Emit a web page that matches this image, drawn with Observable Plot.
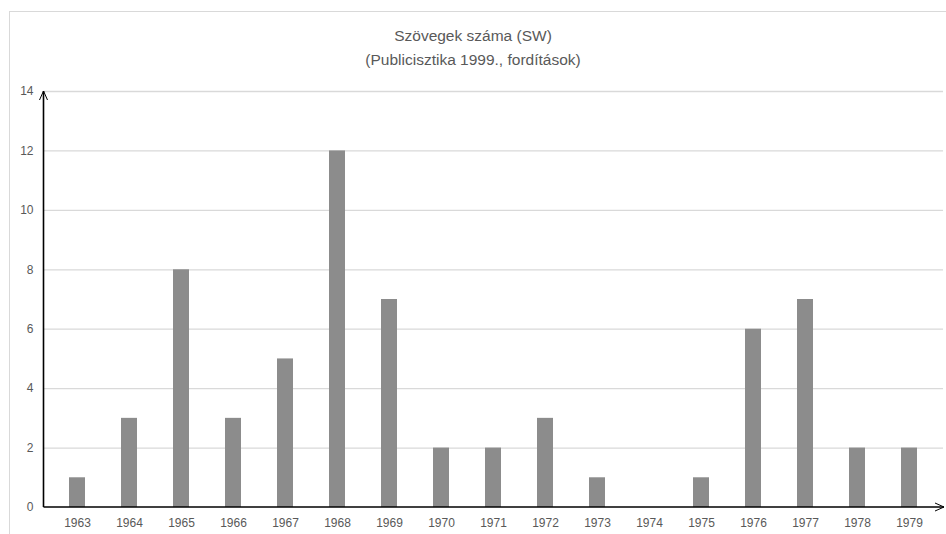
<!DOCTYPE html>
<html>
<head>
<meta charset="utf-8">
<script src="https://cdn.jsdelivr.net/npm/d3@7"></script>
<script src="https://cdn.jsdelivr.net/npm/@observablehq/plot@0.6"></script>
<style>
  html, body { margin: 0; padding: 0; background: #fff; width: 946px; height: 534px; overflow: hidden; }
  #frame { position: absolute; left: 9px; top: 11px; width: 960px; height: 560px; border: 1px solid #d9d9d9; box-sizing: border-box; }
  .title { position: absolute; left: 0; width: 946px; text-align: center; color: #595959;
    font-family: "Liberation Sans", sans-serif; font-size: 15.5px; line-height: 24px; }
  #chart { position: absolute; left: 0; top: 0; }
</style>
</head>
<body>
<div id="frame"></div>
<div class="title" style="top:24px">Szövegek száma (SW)</div>
<div class="title" style="top:48px">(Publicisztika 1999., fordítások)</div>
<div id="chart"></div>
<script>
const years = ["1963","1964","1965","1966","1967","1968","1969","1970","1971","1972","1973","1974","1975","1976","1977","1978","1979"];
const counts = [1,3,8,3,5,12,7,2,2,3,1,0,1,6,7,2,2];
const yTicks = [0,2,4,6,8,10,12,14];

const data = years.map((y, i) => ({year: y, count: counts[i]}));

const W = 946, H = 534, mL = 43, mR = 3, mT = 91, mB = 27;

const plot = Plot.plot({
  width: W,
  height: H,
  marginLeft: mL,
  marginRight: mR,
  marginTop: mT,
  marginBottom: mB,
  style: {fontFamily: '"Liberation Sans", sans-serif', fontSize: "12px", color: "#595959", background: "transparent"},
  x: {domain: years, paddingInner: 0.69, paddingOuter: 0.345, label: null, tickSize: 0, tickPadding: 11},
  y: {domain: [0, 14], ticks: yTicks, label: null, tickSize: 0, tickPadding: 10, tickFormat: d => String(d)},
  marks: [
    Plot.gridY(yTicks.filter(d => d > 0), {stroke: "#d9d9d9", strokeOpacity: 1, strokeWidth: 1.3}),
    Plot.barY(data, {x: "year", y: "count", fill: "#8c8c8c"})
  ]
});

// axis lines with open arrowheads
const svg = d3.select(plot);
const x0 = mL + 0.5, y0 = H - mB;
const g = svg.append("g").attr("fill", "none").attr("stroke", "#000").attr("stroke-width", 1.6);
g.append("line").attr("x1", x0).attr("y1", y0).attr("x2", x0).attr("y2", mT);
g.append("path").attr("d", `M${x0-4},${mT+9}L${x0},${mT}L${x0+4},${mT+9}`).attr("stroke-width", 1);
g.append("line").attr("x1", x0).attr("y1", y0).attr("x2", W - 2).attr("y2", y0);
g.append("path").attr("d", `M${W-11},${y0-4}L${W-2},${y0}L${W-11},${y0+4}`).attr("stroke-width", 1);

document.getElementById("chart").appendChild(plot);
</script>
</body>
</html>
